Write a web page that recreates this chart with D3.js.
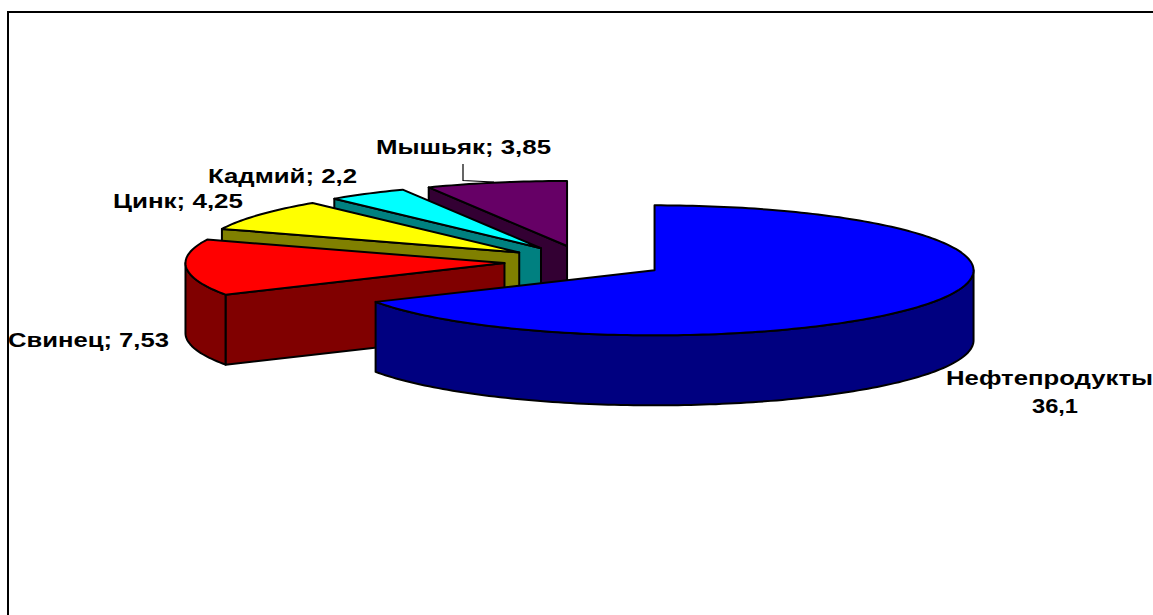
<!DOCTYPE html>
<html lang="ru">
<head>
<meta charset="utf-8">
<title>Загрязняющие вещества</title>
<script src="https://cdn.jsdelivr.net/npm/d3@7"></script>
<style>
  html, body { margin: 0; padding: 0; background: #fff; overflow: hidden; }
  svg { display: block; }
  text { font-family: "Liberation Sans", Arial, sans-serif; font-weight: 700; fill: #000; }
</style>
</head>
<body>
<svg id="chart" width="1153" height="615"></svg>
<script>
// Pollutant shares
const categories = ["Нефтепродукты", "Свинец", "Цинк", "Кадмий", "Мышьяк"];
const values = [36.1, 7.53, 4.25, 2.2, 3.85];

// Face colours and their darker side colours, slice by slice
const topColors = ["#0000ff", "#ff0000", "#ffff00", "#00ffff", "#660066"];
const sideColors = ["#000080", "#800000", "#808000", "#008080", "#330033"];

// Pie geometry
const centerX = 585, centerY = 262;
const radiusX = 319, radiusY = 65;
const depth = 70;
const explosion = 0.253;

const svg = d3.select("#chart");
const decimal = d3.format(".2~f");
const valueText = v => decimal(v).replace(".", ",");

// Unit-disc coordinates to screen coordinates
const xScale = d3.scaleLinear().domain([-1, 1]).range([centerX - radiusX, centerX + radiusX]);
const yScale = d3.scaleLinear().domain([-1, 1]).range([centerY - radiusY, centerY + radiusY]);

const pie = d3.pie().sort(null).startAngle(0).endAngle(2 * Math.PI);
const slices = pie(values).map((d, i) => {
  const mid = (d.startAngle + d.endAngle) / 2;
  return { ...d, i, ox: explosion * Math.sin(mid), oy: -explosion * Math.cos(mid) };
});

const line = d3.line();

const rim = (s, a, drop = 0) => [
  xScale(s.ox + Math.sin(a)),
  yScale(s.oy - Math.cos(a)) + drop
];
const hub = (s, drop = 0) => [xScale(s.ox), yScale(s.oy) + drop];

const arcAngles = (a0, a1) => {
  const steps = Math.max(2, Math.ceil((a1 - a0) / 0.02));
  return d3.range(steps + 1).map(k => a0 + (a1 - a0) * k / steps);
};

const frame = svg.append("g").attr("fill", "none").attr("stroke", "#000").attr("stroke-width", 2);
frame.append("line").attr("x1", 8).attr("x2", 1153).attr("y1", 12).attr("y2", 12);
frame.append("line").attr("x1", 8).attr("x2", 8).attr("y1", 11).attr("y2", 615);

const pieGroup = svg.append("g")
  .attr("stroke", "#000")
  .attr("stroke-width", 2)
  .attr("stroke-linejoin", "round");

// Rear slices first, so the nearer ones overlap them
[...slices].reverse().forEach(s => {
  const g = pieGroup.append("g").attr("class", "slice");
  const side = sideColors[s.i];

  // Radial walls that face the viewer
  const radialWall = a => [hub(s), rim(s, a), rim(s, a, depth), hub(s, depth)];
  if (Math.sin(s.startAngle) < -1e-6) {
    g.append("path").attr("fill", side).attr("d", line(radialWall(s.startAngle)) + "Z");
  }
  if (Math.sin(s.endAngle) > 1e-6) {
    g.append("path").attr("fill", side).attr("d", line(radialWall(s.endAngle)) + "Z");
  }

  // Outer wall along the near half of the ellipse
  const a0 = Math.max(s.startAngle, Math.PI / 2);
  const a1 = Math.min(s.endAngle, 3 * Math.PI / 2);
  if (a1 > a0) {
    const angles = arcAngles(a0, a1);
    const pts = angles.map(a => rim(s, a)).concat(angles.slice().reverse().map(a => rim(s, a, depth)));
    g.append("path").attr("fill", side).attr("d", line(pts) + "Z");
  }

  // Top face
  const topPts = [hub(s)].concat(arcAngles(s.startAngle, s.endAngle).map(a => rim(s, a)));
  g.append("path").attr("fill", topColors[s.i]).attr("d", line(topPts) + "Z");
});

// Leader from the arsenic label to its slice
svg.append("path")
  .attr("fill", "none").attr("stroke", "#000").attr("stroke-width", 1.2)
  .attr("d", line([[463, 164], [463, 180.5], [494, 182]]));

// Data labels, stretched to the wide face used on the chart
const labelSpots = [
  { x: 946, y: 385, width: 207 },
  { x: 8, y: 347, width: 161 },
  { x: 113, y: 208, width: 130 },
  { x: 208, y: 183, width: 149 },
  { x: 376, y: 154, width: 175 }
];
const valueSpot = { x: 1032, y: 413, width: 46 };
const labels = svg.append("g").attr("font-size", 20);

const addLabel = (spot, content) => labels.append("text")
  .attr("x", spot.x).attr("y", spot.y)
  .attr("textLength", spot.width).attr("lengthAdjust", "spacingAndGlyphs")
  .text(content);

categories.forEach((name, i) => {
  if (i === 0) {
    addLabel(labelSpots[i], name);
    addLabel(valueSpot, valueText(values[i]));
  } else {
    addLabel(labelSpots[i], `${name}; ${valueText(values[i])}`);
  }
});
</script>
</body>
</html>
